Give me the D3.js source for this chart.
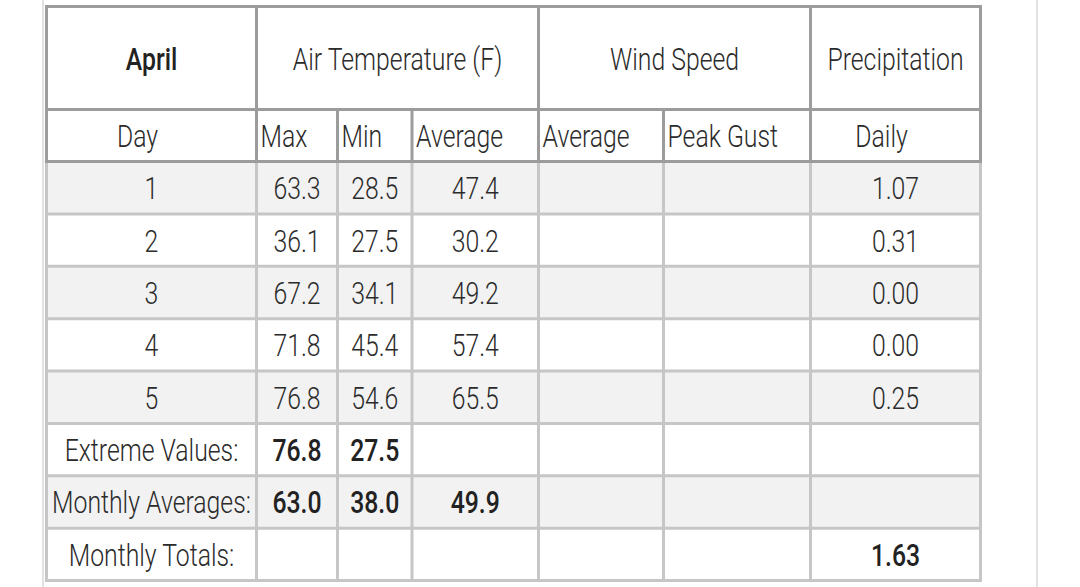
<!DOCTYPE html>
<html>
<head>
<meta charset="utf-8">
<script src="https://cdn.jsdelivr.net/npm/d3@7"></script>
<style>
  body { margin: 0; background: #fff; }
  svg text { font-family: Roboto, "Liberation Sans", sans-serif; fill: #2b2b2b; font-weight: 300; }
  svg text.bold { font-weight: 500; fill: #222; }
</style>
</head>
<body>
<div id="container"></div>
<script>
//---------------------------------------------------------
// DATA

const monthName = 'April'
const groupHeaders = ['Air Temperature (F)', 'Wind Speed', 'Precipitation']
const subHeaders = ['Day', 'Max', 'Min', 'Average', 'Average', 'Peak Gust', 'Daily']

const days = ['1', '2', '3', '4', '5']
const maxTemp = ['63.3', '36.1', '67.2', '71.8', '76.8']
const minTemp = ['28.5', '27.5', '34.1', '45.4', '54.6']
const avgTemp = ['47.4', '30.2', '49.2', '57.4', '65.5']
const windAvg = ['', '', '', '', '']
const windGust = ['', '', '', '', '']
const precipDaily = ['1.07', '0.31', '0.00', '0.00', '0.25']

const summaryLabels = ['Extreme Values:', 'Monthly Averages:', 'Monthly Totals:']
const extremeValues = ['76.8', '27.5', '', '', '', '']
const monthlyAverages = ['63.0', '38.0', '49.9', '', '', '']
const monthlyTotals = ['', '', '', '', '', '1.63']

//---------------------------------------------------------
// SETUP

const width = 1080
const height = 587
const fontSize = 32

const darkLine = '#9c9c9c'
const lightLine = '#c6c6c6'
const stripe = '#f2f2f2'

// column edges (line centres) and header bands
const colEdges = [46.5, 256.5, 337.5, 412, 538.5, 663.5, 810.5, 980.5]
const headTop = 6.5
const headMid = 109.5
const headBottom = 161.5
const tableBottom = 580.5

const svg = d3.select('#container').append('svg')
  .attr('width', width)
  .attr('height', height)

// no condensed face installed, so squeeze the glyphs horizontally
// so that the longest label keeps the reference width
const probe = svg.append('text').attr('font-size', fontSize).text(summaryLabels[1])
const sx = 199 / probe.node().getComputedTextLength()
probe.remove()

const place = (x, yy) => `translate(${x},${yy}) scale(${sx},1)`

// page side rules
svg.selectAll('.page-rule')
  .data([43, 1037])
  .join('rect')
  .attr('class', 'page-rule')
  .attr('x', d => d - 1)
  .attr('y', 0)
  .attr('width', 2)
  .attr('height', height)
  .attr('fill', '#e2e2e2')

//---------------------------------------------------------
// ROWS

const bodyRows = days.map((d, i) => ({
  cells: [d, maxTemp[i], minTemp[i], avgTemp[i], windAvg[i], windGust[i], precipDaily[i]],
  bold: false
}))
  .concat([extremeValues, monthlyAverages, monthlyTotals].map((vals, i) => ({
    cells: [summaryLabels[i]].concat(vals),
    bold: true
  })))

const y = d3.scaleBand()
  .domain(d3.range(bodyRows.length))
  .range([headBottom, tableBottom])

const rowG = svg.selectAll('.row')
  .data(bodyRows)
  .join('g')
  .attr('class', 'row')
  .attr('transform', (d, i) => `translate(0,${y(i)})`)

rowG.append('rect')
  .attr('x', colEdges[0])
  .attr('width', colEdges[colEdges.length - 1] - colEdges[0])
  .attr('height', y.bandwidth())
  .attr('fill', (d, i) => i % 2 === 0 ? stripe : '#fff')

rowG.selectAll('text')
  .data(d => d.cells.map((c, j) => ({ text: c, col: j, bold: d.bold && j > 0 })))
  .join('text')
  .attr('class', d => d.bold ? 'bold' : null)
  .attr('transform', d => place((colEdges[d.col] + colEdges[d.col + 1]) / 2, y.bandwidth() / 2 + fontSize * 0.36))
  .attr('text-anchor', 'middle')
  .attr('font-size', fontSize)
  .text(d => d.text)

//---------------------------------------------------------
// HEADERS

const groups = [
  { text: monthName, from: 0, to: 1, bold: true },
  { text: groupHeaders[0], from: 1, to: 4 },
  { text: groupHeaders[1], from: 4, to: 6 },
  { text: groupHeaders[2], from: 6, to: 7 }
]

svg.selectAll('.group-head')
  .data(groups)
  .join('text')
  .attr('class', d => d.bold ? 'group-head bold' : 'group-head')
  .attr('transform', d => place((colEdges[d.from] + colEdges[d.to]) / 2, (headTop + headMid) / 2 + fontSize * 0.36))
  .attr('text-anchor', 'middle')
  .attr('font-size', fontSize)
  .text(d => d.text)

// first and last sub headers are centred (a bit left), the rest sit at the left edge
svg.selectAll('.sub-head')
  .data(subHeaders)
  .join('text')
  .attr('class', 'sub-head')
  .attr('transform', (d, i) => place(
    (i === 0 || i === subHeaders.length - 1) ? (colEdges[i] + colEdges[i + 1]) / 2 - 14 : colEdges[i] + 4,
    (headMid + headBottom) / 2 + fontSize * 0.36))
  .attr('text-anchor', (d, i) => (i === 0 || i === subHeaders.length - 1) ? 'middle' : 'start')
  .attr('font-size', fontSize)
  .text(d => d)

//---------------------------------------------------------
// GRID LINES

const line = (x1, y1, x2, y2, color) => svg.append('line')
  .attr('x1', x1).attr('y1', y1).attr('x2', x2).attr('y2', y2)
  .attr('stroke', color)
  .attr('stroke-width', 3)

// body verticals and horizontals (light)
colEdges.forEach(x => line(x, headBottom, x, tableBottom + 1.5, lightLine))
y.domain().slice(1).forEach(i => line(colEdges[0], y(i), colEdges[7], y(i), lightLine))
line(colEdges[0] - 1.5, tableBottom, colEdges[7] + 1.5, tableBottom, lightLine)

// header lines (dark)
const groupEdges = [0, 1, 4, 6, 7]
groupEdges.forEach(i => line(colEdges[i], headTop - 1.5, colEdges[i], headMid, darkLine))
colEdges.forEach(x => line(x, headMid, x, headBottom, darkLine))
;[headTop, headMid, headBottom].forEach(h => line(colEdges[0] - 1.5, h, colEdges[7] + 1.5, h, darkLine))
</script>
</body>
</html>
